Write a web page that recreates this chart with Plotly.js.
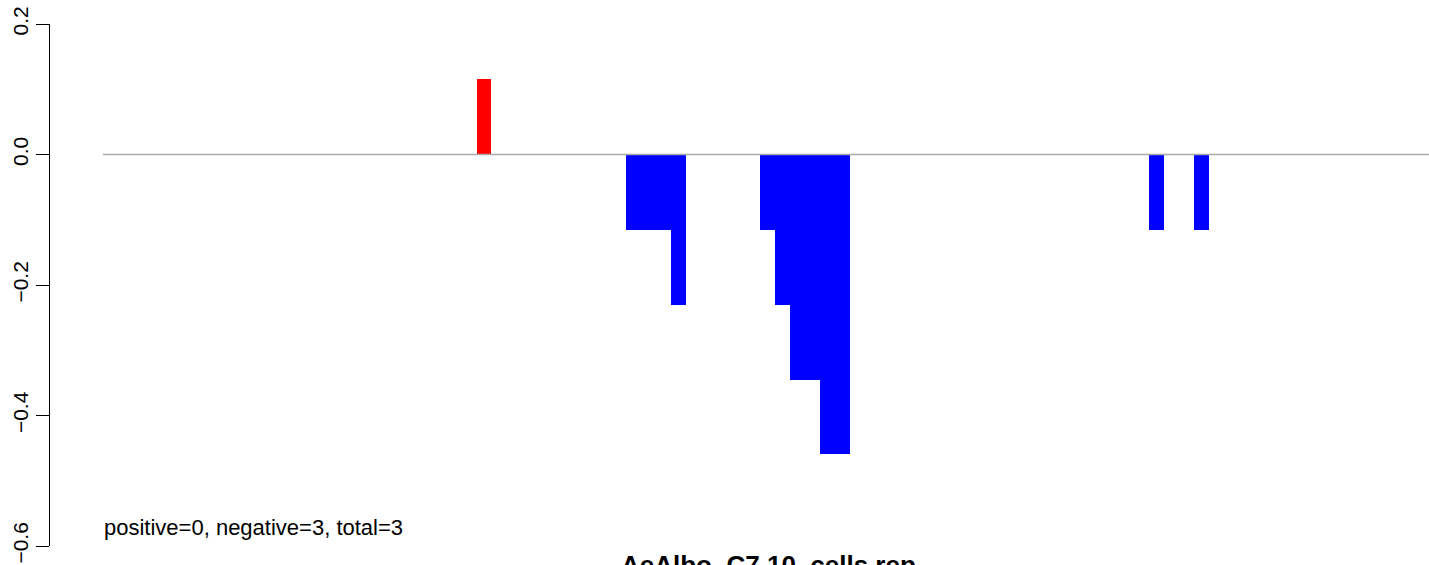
<!DOCTYPE html>
<html>
<head>
<meta charset="utf-8">
<script src="https://cdn.plot.ly/plotly-3.0.1.min.js"></script>
<style>html,body{margin:0;padding:0;background:#fff;}#chart{width:1429px;height:565px;}</style>
</head>
<body>
<div id="chart"></div>
<script>
// Bin start positions (bin index, width 1) and values
const binStart = [25, 35, 36, 37, 38, 44, 45, 46, 47, 48, 49, 70, 73];
const binValue = [0.115, -0.115, -0.115, -0.115, -0.23, -0.115, -0.23, -0.345, -0.345, -0.459, -0.459, -0.115, -0.115];
const yTickVals = [-0.6, -0.4, -0.2, 0.0, 0.2];
const yTickText = ["\u22120.6", "\u22120.4", "\u22120.2", "0.0", "0.2"];
const nBins = 90;
const summaryText = "positive=0, negative=3, total=3";
const titleText = "AeAlbo_C7.10_cells.rep";

const W = 1429, H = 565;
const mL = 50, mR = 0, mT = 24, mB = 19;
const unitPx = 14.94;
const x0Px = 103;
const xMin = -(x0Px - mL) / unitPx;
const xMax = (W - mR - x0Px) / unitPx;

const barTrace = {
  type: 'bar',
  x: binStart.map(s => s + 0.5),
  y: binValue,
  width: binStart.map(() => 1),
  marker: {color: binValue.map(v => v > 0 ? '#FF0000' : '#0000FF'), line: {width: 0}},
  hoverinfo: 'x+y',
  showlegend: false
};

const plotH = H - mT - mB;
const layout = {
  width: W, height: H,
  margin: {l: mL, r: mR, t: mT, b: mB, pad: 0},
  paper_bgcolor: '#ffffff', plot_bgcolor: '#ffffff',
  font: {family: 'Liberation Sans, Arial, sans-serif', color: '#000', size: 21},
  bargap: 0,
  showlegend: false,
  xaxis: {range: [xMin, xMax], visible: false, showgrid: false, zeroline: false, fixedrange: true},
  yaxis: {
    range: [-0.6, 0.2], tickvals: yTickVals, ticktext: yTickText,
    showgrid: false, zeroline: false, showline: true, linecolor: '#000', linewidth: 1,
    ticks: 'outside', ticklen: 13, tickwidth: 1, tickcolor: '#000',
    tickangle: -90, tickfont: {size: 21, color: '#000'}, fixedrange: true
  },
  shapes: [{type: 'line', xref: 'x', yref: 'y', x0: 0, x1: nBins, y0: 0, y1: 0,
            line: {color: '#A9A9A9', width: 1.5}, layer: 'above'}],
  annotations: [
    {xref: 'x', yref: 'y', x: 0, y: -0.571, text: summaryText, showarrow: false,
     xanchor: 'left', yanchor: 'middle', font: {size: 22, color: '#000'}, borderpad: 0},
    {xref: 'paper', yref: 'paper', x: (768.5 - mL) / (W - mL - mR), y: (H - mB - 565) / plotH,
     text: '<b>' + titleText + '</b>', showarrow: false, xanchor: 'center', yanchor: 'middle',
     font: {size: 26, color: '#000'}, borderpad: 0}
  ]
};

Plotly.newPlot('chart', [barTrace], layout, {staticPlot: true, displayModeBar: false});
</script>
</body>
</html>
